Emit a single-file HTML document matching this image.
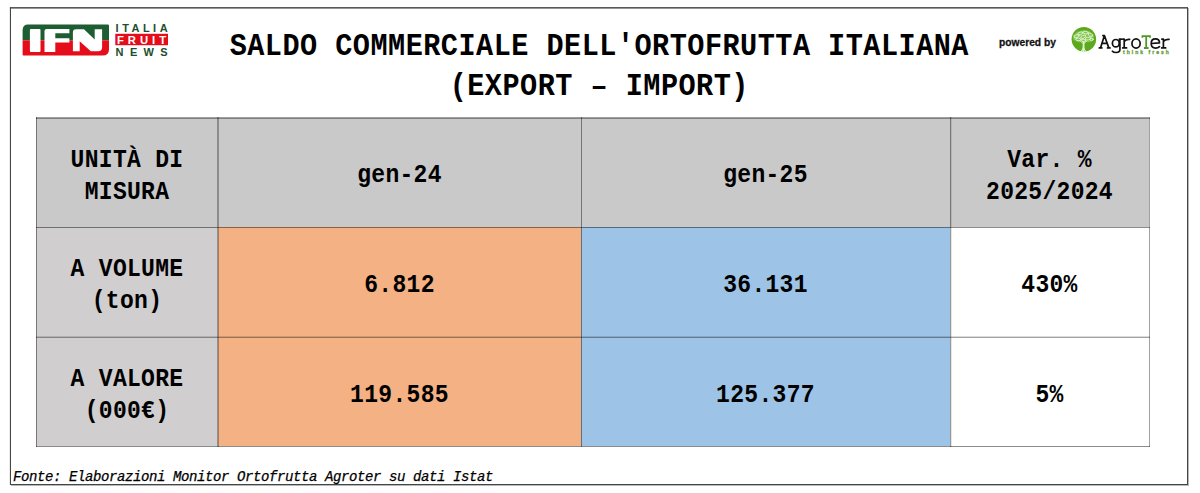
<!DOCTYPE html>
<html>
<head>
<meta charset="utf-8">
<style>
html,body{margin:0;padding:0;background:#fff;}
body{width:1200px;height:493px;position:relative;overflow:hidden;font-family:"Liberation Mono",monospace;}
.a{position:absolute;}
.frame{position:absolute;left:10px;top:7px;width:1176px;height:476px;border:1px solid #454545;border-top-color:#5a5a5a;box-shadow:1px 1px 0 rgba(0,0,0,0.28), inset 0 1px 0 rgba(0,0,0,0.42), -1px 0 0 rgba(0,0,0,0.08);}
.cell{position:absolute;}
.g1{background:#c9c9c9;}
.g2{background:#d0cece;}
.or{background:#f4b183;}
.bl{background:#9dc3e6;}
.wh{background:#fff;}
.hl{position:absolute;height:1px;background:#7a7a7a;}
.vl{position:absolute;width:1px;background:#7a7a7a;}
.t{position:absolute;white-space:nowrap;text-align:center;font-weight:bold;color:#000;}
.tb{font-size:25px;line-height:25px;letter-spacing:0.33px;transform:scaleX(0.92);transform-origin:50% 50%;}
.tt{font-size:31px;line-height:31px;letter-spacing:0.53px;transform:scaleX(0.92);transform-origin:50% 50%;}
.fn{position:absolute;left:13px;top:470px;font-size:14px;line-height:14px;font-style:italic;letter-spacing:-0.4px;white-space:nowrap;color:#000;-webkit-text-stroke:0.25px #000;}
</style>
</head>
<body>
<div class="frame"></div>

<!-- IFN logo -->
<svg class="a" style="left:20px;top:20px" width="160" height="42" viewBox="20 20 160 42">
  <defs>
    <clipPath id="ifnc"><path d="M28.2 24.6 H107.8 Q109 24.6 109 25.8 V49.2 Q109 55.6 102.6 55.6 H23.4 Q22.6 55.6 22.6 54.8 V30.2 Q22.6 24.6 28.2 24.6 Z"/></clipPath>
  </defs>
  <g clip-path="url(#ifnc)">
    <rect x="20" y="20" width="95" height="20.3" fill="#1d5d31"/>
    <rect x="20" y="40.3" width="95" height="20" fill="#e60d1b"/>
  </g>
  <g fill="#fff">
    <path d="M30.9 28.9 H39.5 Q40.5 28.9 40.5 29.9 V51 Q40.5 52 39.5 52 H30.9 Q29.9 52 29.9 51 V29.9 Q29.9 28.9 30.9 28.9 Z"/>
    <path d="M46.7 28.9 H69.4 V33.3 H55.3 V38.2 H69.4 V42.4 H55.3 V52 H44.5 V31.1 Q44.5 28.9 46.7 28.9 Z"/>
    <path d="M75.9 29.2 H84 L94.7 39.6 V29.2 H102.1 V47.3 Q102.1 51.3 98.1 51.3 H90.8 L79.7 41.2 V51.3 H72.9 V32.2 Q72.9 29.2 75.9 29.2 Z"/>
  </g>
  <g font-family="Liberation Sans" font-weight="bold">
    <text x="115.6" y="31.5" font-size="11" fill="#1d4f2e" textLength="52" lengthAdjust="spacing">ITALIA</text>
    <rect x="115.3" y="33.8" width="52.7" height="11.4" fill="#e60d1b"/>
    <text x="116.9" y="43.9" font-size="11.3" fill="#fff" textLength="49.2" lengthAdjust="spacing">FRUIT</text>
    <text x="115.6" y="55.7" font-size="11" fill="#1d4f2e" textLength="52" lengthAdjust="spacing">NEWS</text>
  </g>
</svg>

<!-- Title -->
<div class="t tt" style="left:0;width:1198.6px;top:30.5px;">SALDO COMMERCIALE DELL'ORTOFRUTTA ITALIANA</div>
<div class="t tt" style="left:0;width:1198.6px;top:71px;">(EXPORT – IMPORT)</div>

<!-- powered by AgroTer -->
<div class="a" style="left:999px;top:34.6px;font-family:'Liberation Sans',sans-serif;font-weight:bold;font-size:11.2px;line-height:14px;color:#111;-webkit-text-stroke:0.3px #111;white-space:nowrap;transform:scaleX(0.915);transform-origin:0 0;">powered by</div>
<svg class="a" style="left:1068px;top:24px" width="110" height="34" viewBox="1068 24 110 34">
  <circle cx="1083.85" cy="39.25" r="12.25" fill="#5ca91f"/>
  <path fill="#86c455" d="M1073 38.4 Q1072.2 35 1075.2 33.4 Q1076.6 30.8 1080 31.2 Q1082.6 29.6 1085.8 30.8 Q1089.4 30 1090.8 32.8 Q1094.2 33.8 1093.8 36.8 Q1094.6 40 1091.4 41.4 Q1088.6 42.8 1086 41.8 Q1083.4 43 1080.6 42 Q1077 42.8 1075.6 40.8 Q1073 40.6 1073 38.4 Z"/>
  <g fill="none" stroke="#e4f7cf" stroke-width="0.85" stroke-linecap="round">
    <ellipse cx="1076.6" cy="36.2" rx="2.6" ry="1.4" transform="rotate(-15 1076.6 36.2)"/>
    <ellipse cx="1080.4" cy="33.4" rx="2.6" ry="1.3" transform="rotate(-20 1080.4 33.4)"/>
    <ellipse cx="1085.6" cy="32.6" rx="2.8" ry="1.3" transform="rotate(10 1085.6 32.6)"/>
    <ellipse cx="1090.4" cy="34.8" rx="2.2" ry="1.5" transform="rotate(30 1090.4 34.8)"/>
    <ellipse cx="1078.4" cy="39.4" rx="2.8" ry="1.3" transform="rotate(8 1078.4 39.4)"/>
    <ellipse cx="1083.2" cy="36.8" rx="2.6" ry="1.4" transform="rotate(-25 1083.2 36.8)"/>
    <ellipse cx="1088" cy="38.6" rx="2.8" ry="1.4" transform="rotate(-10 1088 38.6)"/>
    <ellipse cx="1091.6" cy="39.4" rx="1.6" ry="1.2"/>
    <ellipse cx="1083.6" cy="40.6" rx="2" ry="1.1"/>
  </g>
  <g fill="none" stroke="#dff4c8" stroke-linecap="round" stroke-linejoin="round">
    <path stroke-width="1.8" d="M1083.4 51.6 C1083.8 48 1083.2 45.5 1083.8 42"/>
    <path stroke-width="1.1" d="M1081 51.6 Q1082.8 50 1083.4 47.5 M1086.2 51.6 Q1084.2 50 1083.7 47.5"/>
    <path stroke-width="0.8" d="M1083.6 44 L1080.6 41.4 M1083.8 43.6 L1086.8 41.2"/>
  </g>
  <g fill="none" stroke="#111" stroke-width="1.7" stroke-linecap="round" stroke-linejoin="round">
    <path d="M1099.3 47.9 H1101.9 M1100.5 47.9 L1104.4 35.5 L1108.8 47.9 M1102.9 35.6 H1104.4 M1107.5 47.9 H1110 M1101.8 43.4 H1107.2"/>
    <ellipse cx="1115.8" cy="43.2" rx="3.4" ry="3.7"/>
    <path d="M1119.9 39.3 V49.6 Q1119.9 52.5 1116.3 52.5 Q1113.4 52.5 1112.4 51.2 M1119.3 39.2 H1121.4"/>
    <path d="M1124.2 39.3 V47.9 M1122.8 39.2 H1124.2 M1122.7 47.9 H1126.6 M1124.2 41.6 Q1125.9 39 1129.6 39.4"/>
    <ellipse cx="1136.05" cy="43.45" rx="4.1" ry="4.6"/>
    <path d="M1151.3 43.5 L1159.5 42.9 Q1159.5 38.9 1155.4 38.9 Q1151.2 38.9 1151.2 43.5 Q1151.2 48.1 1155.6 48.1 Q1158 48.1 1159.5 46.7"/>
    <path d="M1163.4 39.3 V47.9 M1161.9 39.2 H1163.4 M1161.7 47.9 H1165.7 M1163.4 41.6 Q1165.2 39 1169 39.4"/>
  </g>
  <g fill="none" stroke="#4f9a26" stroke-width="1.8" stroke-linecap="butt">
    <path d="M1141.8 36.1 H1150.6 M1142.4 35.5 V37.8 M1150 35.5 V37.8 M1146.2 36.1 V48 M1143.9 48 H1148.6"/>
  </g>
  <text x="1123" y="53.6" font-family="Liberation Sans" font-size="5" font-weight="bold" fill="#6a9e42" textLength="45.8" lengthAdjust="spacing" stroke="#6a9e42" stroke-width="0.3">think fresh</text>
</svg>

<!-- Table cells -->
<div class="cell g1" style="left:36px;top:117px;width:1113px;height:110px;"></div>
<div class="cell g2" style="left:36px;top:227px;width:182px;height:219px;"></div>
<div class="cell or" style="left:218px;top:227px;width:363px;height:219px;"></div>
<div class="cell bl" style="left:581px;top:227px;width:369px;height:219px;"></div>
<div class="cell wh" style="left:950px;top:227px;width:199px;height:219px;"></div>

<!-- grid lines -->
<div class="hl" style="left:36px;top:117px;width:1114px;background:rgba(0,0,0,0.2);"></div>
<div class="hl" style="left:36px;top:118px;width:1114px;background:rgba(0,0,0,0.36);"></div>
<div class="hl" style="left:36px;top:227px;width:1114px;background:rgba(0,0,0,0.45);"></div>
<div class="hl" style="left:36px;top:336px;width:1114px;background:rgba(0,0,0,0.14);"></div>
<div class="hl" style="left:36px;top:337px;width:1114px;background:rgba(0,0,0,0.36);"></div>
<div class="hl" style="left:36px;top:446px;width:1114px;background:rgba(0,0,0,0.45);"></div>
<div class="vl" style="left:36px;top:117px;height:330px;background:rgba(0,0,0,0.42);"></div>
<div class="vl" style="left:217px;top:117px;height:330px;background:rgba(0,0,0,0.3);"></div>
<div class="vl" style="left:218px;top:117px;height:330px;background:rgba(0,0,0,0.3);"></div>
<div class="vl" style="left:581px;top:117px;height:330px;background:rgba(0,0,0,0.42);"></div>
<div class="vl" style="left:950px;top:117px;height:330px;background:rgba(0,0,0,0.4);"></div>
<div class="vl" style="left:951px;top:117px;height:330px;background:rgba(0,0,0,0.1);"></div>
<div class="vl" style="left:1149px;top:117px;height:330px;background:rgba(0,0,0,0.37);"></div>

<!-- Table text -->
<div class="t tb" style="left:36px;width:182px;top:147.6px;">UNITÀ DI</div>
<div class="t tb" style="left:36px;width:182px;top:179.5px;">MISURA</div>
<div class="t tb" style="left:218px;width:363px;top:163px;">gen-24</div>
<div class="t tb" style="left:581px;width:369px;top:163px;">gen-25</div>
<div class="t tb" style="left:950px;width:199px;top:147.6px;">Var. %</div>
<div class="t tb" style="left:950px;width:199px;top:179.5px;">2025/2024</div>

<div class="t tb" style="left:36px;width:182px;top:256.8px;">A VOLUME</div>
<div class="t tb" style="left:36px;width:182px;top:288.8px;">(ton)</div>
<div class="t tb" style="left:218px;width:363px;top:273px;">6.812</div>
<div class="t tb" style="left:581px;width:369px;top:273px;">36.131</div>
<div class="t tb" style="left:950px;width:199px;top:273px;">430%</div>

<div class="t tb" style="left:36px;width:182px;top:366.8px;">A VALORE</div>
<div class="t tb" style="left:36px;width:182px;top:398.8px;">(000€)</div>
<div class="t tb" style="left:218px;width:363px;top:382.5px;">119.585</div>
<div class="t tb" style="left:581px;width:369px;top:382.5px;">125.377</div>
<div class="t tb" style="left:950px;width:199px;top:382.5px;">5%</div>

<div class="fn">Fonte: Elaborazioni Monitor Ortofrutta Agroter su dati Istat</div>
</body>
</html>
